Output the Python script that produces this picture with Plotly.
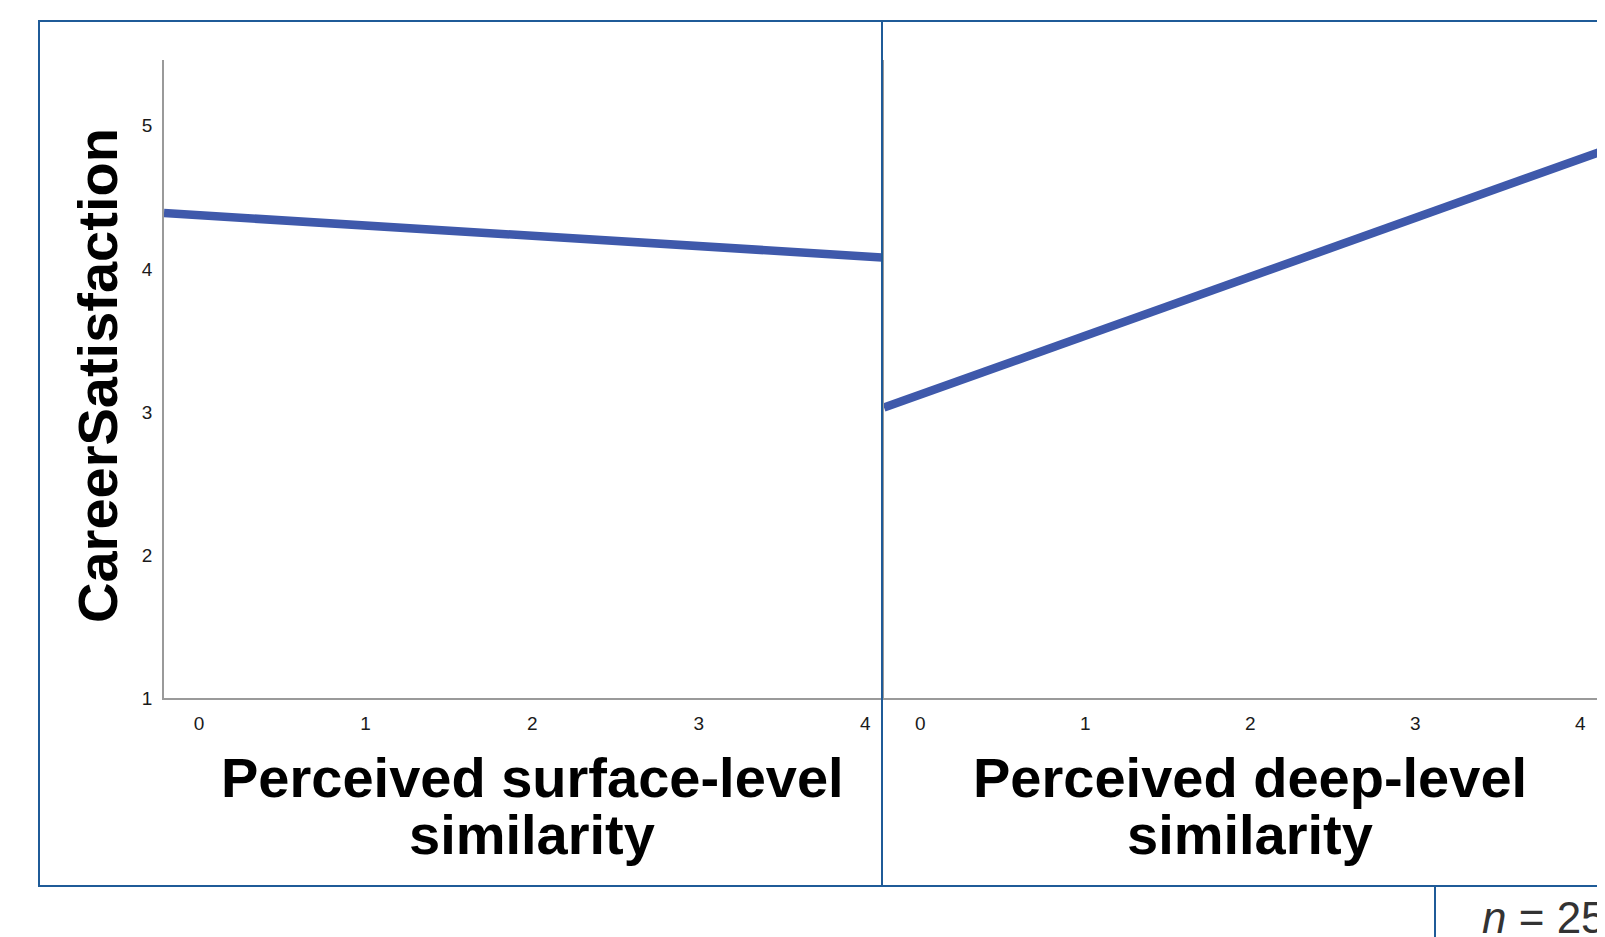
import plotly.graph_objects as go

# page is offset by the default 8px body margin
OFF = 8
W, H = 1605 - OFF, 937 - OFF

# ---- data ----
panel_titles = [["Perceived surface-level", "similarity"],
                ["Perceived deep-level", "similarity"]]
y_title = "CareerSatisfaction"
x_ticks = [0, 1, 2, 3, 4]
y_ticks = [1, 2, 3, 4, 5]
surface_x = [-0.21, 4.10]
surface_y = [4.39, 4.08]
deep_x = [-0.22, 4.15]
deep_y = [3.03, 4.83]
n_text = "<i>n</i> = 25"


def px(x):
    return (x - OFF) / W


def py(y):
    return 1 - (y - OFF) / H


LINE_COLOR = "#3f59ab"
BOX_COLOR = "#1f5b98"
AXIS_COLOR = "#9a9a9a"
TICK_FONT = dict(family="Liberation Sans Narrow, Arial Narrow, Liberation Sans, Arial", size=19, color="#1a1a1a")
TITLE_FONT = dict(family="Liberation Sans, Arial", size=56, color="#000000")

fig = go.Figure()
fig.add_trace(go.Scatter(x=surface_x, y=surface_y, mode="lines",
                         line=dict(color=LINE_COLOR, width=8.5),
                         xaxis="x", yaxis="y", showlegend=False, hoverinfo="skip"))
fig.add_trace(go.Scatter(x=deep_x, y=deep_y, mode="lines",
                         line=dict(color=LINE_COLOR, width=8.5),
                         xaxis="x2", yaxis="y2", showlegend=False, hoverinfo="skip"))

y_dom = [py(698), py(60)]
common_x = dict(showgrid=False, zeroline=False, showline=True, linecolor=AXIS_COLOR,
                linewidth=1.5, tickvals=x_ticks, ticks="", tickfont=TICK_FONT,
                ticklabelstandoff=7, fixedrange=True, automargin=False)
common_y = dict(showgrid=False, zeroline=False, showline=True, linecolor=AXIS_COLOR,
                linewidth=1.5, tickvals=y_ticks, ticks="", tickfont=TICK_FONT,
                range=[1, 5.46], domain=y_dom, fixedrange=True, automargin=False)

fig.update_layout(
    width=W, height=H,
    margin=dict(l=0, r=0, t=0, b=0, pad=0, autoexpand=False),
    paper_bgcolor="white", plot_bgcolor="white",
    xaxis=dict(domain=[px(164), px(882)], range=[-0.21, 4.10], anchor="y", **common_x),
    yaxis=dict(anchor="x", ticklabelstandoff=6, **common_y),
    xaxis2=dict(domain=[px(884), 1.0], range=[-0.22, 4.15], anchor="y2", **common_x),
    yaxis2=dict(anchor="x2", showticklabels=False, **common_y),
    showlegend=False,
)

annotations = []
# y axis title
annotations.append(dict(text="<b>%s</b>" % y_title, x=px(97), y=py(376), xref="paper", yref="paper",
                        showarrow=False, textangle=-90, font=TITLE_FONT,
                        xanchor="center", yanchor="middle"))
# panel titles (two lines each)
centers = [532, 1250]
for cx, lines in zip(centers, panel_titles):
    for ly, txt in zip([777, 834], lines):
        annotations.append(dict(text="<b>%s</b>" % txt, x=px(cx), y=py(ly), xref="paper", yref="paper",
                                showarrow=False, font=TITLE_FONT, xanchor="center", yanchor="middle"))
# n label
annotations.append(dict(text=n_text, x=px(1480), y=py(917), xref="paper", yref="paper",
                        showarrow=False, font=dict(family="Liberation Sans, Arial", size=44, color="#333333"),
                        xanchor="left", yanchor="middle"))
fig.update_layout(annotations=annotations)

shapes = [
    dict(type="rect", xref="paper", yref="paper", x0=px(39), y0=py(886), x1=px(1615), y1=py(21),
         line=dict(color=BOX_COLOR, width=2), fillcolor="rgba(0,0,0,0)", layer="above"),
    dict(type="line", xref="paper", yref="paper", x0=px(882), y0=py(886), x1=px(882), y1=py(21),
         line=dict(color=BOX_COLOR, width=2), layer="above"),
    dict(type="line", xref="paper", yref="paper", x0=px(1435), y0=py(886), x1=px(1435), y1=py(945),
         line=dict(color=BOX_COLOR, width=2), layer="above"),
]
fig.update_layout(shapes=shapes)

fig.write_html("out.html")
